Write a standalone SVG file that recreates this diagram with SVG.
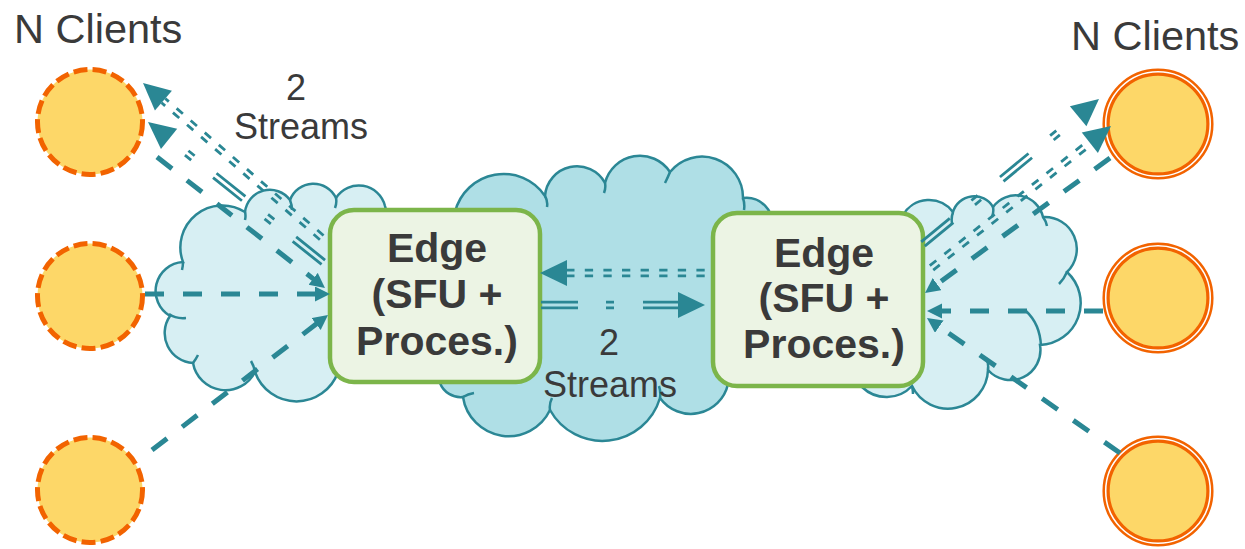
<svg xmlns="http://www.w3.org/2000/svg" width="1245" height="549" viewBox="0 0 1245 549">
  <defs>
    <style>
      .cl-light { fill: #d7eff3; stroke: #2b8795; stroke-width: 2.5; }
      .cl-mid { fill: #afdfe6; stroke: #2b8795; stroke-width: 2.5; }
      .hook { fill: none; stroke: #2b8795; stroke-width: 2.5; }
      .box { fill: #ecf4e4; stroke: #7cb54a; stroke-width: 4.5; }
      .lbl { font-family: "Liberation Sans", Arial, sans-serif; font-weight: bold; font-size: 41px; fill: #3a3a3a; text-anchor: middle; }
      .cap { font-family: "Liberation Sans", Arial, sans-serif; font-size: 36px; fill: #3a3a3a; text-anchor: middle; }
      .title { font-family: "Liberation Sans", Arial, sans-serif; font-size: 41.5px; fill: #3a3a3a; }
      .cli-d { fill: #fdd768; stroke: #f26300; stroke-width: 5; stroke-dasharray: 14 5.2; }
      .cli-o { fill: #ffffff; stroke: #f26300; stroke-width: 2.5; }
      .cli-i { fill: #fdd768; stroke: #f26300; stroke-width: 3.2; }
      .sl { fill: none; stroke: #2a8794; stroke-width: 5; stroke-dasharray: 19 19; marker-end: url(#tri); }
      .dl { stroke: #2a8794; stroke-width: 2.8; }
      .sq { stroke-dasharray: 8.3 10.3; stroke-dashoffset: 10.3; }
      .ld { stroke-dasharray: 37 28 8 29; }
      .ah { fill: #2a8794; }
    </style>
    <marker id="tri" markerUnits="userSpaceOnUse" markerWidth="16" markerHeight="16" refX="3" refY="7.5" orient="auto">
      <path d="M0,0 L15,7.5 L0,15 Z" fill="#2a8794"/>
    </marker>
  </defs>

  <!-- clouds -->
  <g id="clouds">
    <g id="cloud-core">
      <path class="cl-mid" d="M455,212 A50,50 0 0 1 545,196 A32,32 0 0 1 605,183 A36,36 0 0 1 670,172 A41,41 0 0 1 743,198 A26,26 0 0 1 772,228 L728,384 A38,38 0 0 1 660,398 A60,60 0 0 1 550,410 A46,46 0 0 1 463,397 A22,22 0 0 1 440,383 Z"/>
      <path class="hook" d="M545,196 Q548,201 547,207 M605,183 Q606,188 604,193 M670,172 Q668,177 665,183 M743,198 Q745,204 744,210 M660,398 Q661,392 659,386 M550,410 Q549,404 552,398 M463,397 Q468,394 474,393"/>
    </g>
    <g id="cloud-left">
      <path class="cl-light" d="M193,363 A30,30 0 0 1 170,316 A29,29 0 0 1 183,262 A42,42 0 0 1 245,212 A25,25 0 0 1 290,200 A25,25 0 0 1 336,198 A27,27 0 0 1 385,206 L400,260 L338,372 A44,44 0 0 1 255,372 A33,33 0 0 1 193,363 Z"/>
      <path class="hook" d="M169,314 Q176,319 186,318 M183,262 Q183,266 182,270 M245,212 Q246,216 245,220 M290,200 Q292,205 292,210 M336,198 Q337,203 335,208 M255,372 Q254,366 251,361 M193,363 Q196,359 198,355"/>
    </g>
    <g id="cloud-right">
      <path class="cl-light" d="M903,215 A30,30 0 0 1 953,212 A22,22 0 0 1 993,207 A28,28 0 0 1 1043,217 A32,32 0 0 1 1067,272 A42,42 0 0 1 1040,345 A30,30 0 0 1 988,370 A40,40 0 0 1 912,386 A35,35 0 0 1 862,387 L880,300 Z"/>
      <path class="hook" d="M953,212 Q951,218 952,223 M993,207 Q994,212 992,217 M1043,217 Q1046,221 1047,226 M1067,272 Q1064,279 1059,284 M1041,346 Q1040,324 1026,311 M988,370 Q989,364 986,358 M912,386 Q913,391 913,394"/>
    </g>
  </g>

  <!-- edge servers -->
  <g id="edge-left">
    <rect class="box" x="330" y="210" width="210" height="172" rx="24"/>
    <text class="lbl" x="437" y="262">Edge</text>
    <text class="lbl" x="437" y="308">(SFU +</text>
    <text class="lbl" x="437" y="355">Proces.)</text>
  </g>
  <g id="edge-right">
    <rect class="box" x="713" y="213" width="210" height="173" rx="24"/>
    <text class="lbl" x="824" y="267">Edge</text>
    <text class="lbl" x="824" y="312">(SFU +</text>
    <text class="lbl" x="824" y="358">Proces.)</text>
  </g>

  <!-- clients on the left (dashed outline) -->
  <g id="client-l1"><circle class="cli-d" cx="90" cy="122" r="52.5"/></g>
  <g id="client-l2"><circle class="cli-d" cx="90" cy="296" r="52.5"/></g>
  <g id="client-l3"><circle class="cli-d" cx="90" cy="490" r="52.5"/></g>

  <!-- clients on the right (double outline) -->
  <g id="client-r1"><circle class="cli-o" cx="1158" cy="124" r="54.3"/><circle class="cli-i" cx="1158" cy="124" r="49.9"/></g>
  <g id="client-r2"><circle class="cli-o" cx="1158" cy="298" r="54.3"/><circle class="cli-i" cx="1158" cy="298" r="49.9"/></g>
  <g id="client-r3"><circle class="cli-o" cx="1158" cy="491" r="54.3"/><circle class="cli-i" cx="1158" cy="491" r="49.9"/></g>

  <!-- connectors -->
  <g id="connectors">
    <!-- single-stream uplinks -->
    <line class="sl" x1="145" y1="294" x2="318" y2="294"/>
    <line class="sl" x1="152" y1="450" x2="318.5" y2="322.3"/>
    <line class="sl" x1="157" y1="157" x2="315.5" y2="280.6"/>
    <line class="sl" x1="1110" y1="158" x2="934.7" y2="285.9"/>
    <line class="sl" x1="1103" y1="311" x2="939" y2="311"/>
    <line class="sl" x1="1120" y1="453" x2="936.8" y2="324.9"/>

    <!-- double-line stream bundles -->
    <g transform="translate(328,243) rotate(-139.14)">
      <line class="dl sq" x1="0" y1="-2.8" x2="217.6" y2="-2.8"/>
      <line class="dl sq" x1="0" y1="2.8" x2="217.6" y2="2.8"/>
      <polygon class="ah" points="217.6,-13 244.6,0 217.6,13"/>
    </g>
    <g transform="translate(328,266) rotate(-141.34)">
      <line class="dl ld" x1="0" y1="-2.8" x2="203.5" y2="-2.8" stroke-dashoffset="96"/>
      <line class="dl ld" x1="0" y1="2.8" x2="203.5" y2="2.8" stroke-dashoffset="96"/>
      <polygon class="ah" points="203.5,-13 230.5,0 203.5,13"/>
    </g>
    <g transform="translate(713,273) rotate(180)">
      <line class="dl sq" x1="0" y1="-2.8" x2="146" y2="-2.8"/>
      <line class="dl sq" x1="0" y1="2.8" x2="146" y2="2.8"/>
      <polygon class="ah" points="146,-13 173,0 146,13"/>
    </g>
    <g transform="translate(541,305)">
      <line class="dl ld" x1="0" y1="-2.8" x2="137" y2="-2.8"/>
      <line class="dl ld" x1="0" y1="2.8" x2="137" y2="2.8"/>
      <polygon class="ah" points="137,-13 164,0 137,13"/>
    </g>
    <g transform="translate(923,244) rotate(-39.48)">
      <line class="dl ld" x1="0" y1="-2.8" x2="201" y2="-2.8"/>
      <line class="dl ld" x1="0" y1="2.8" x2="201" y2="2.8"/>
      <polygon class="ah" points="201,-13 228,0 201,13"/>
    </g>
    <g transform="translate(925,273) rotate(-38.32)">
      <line class="dl sq" x1="0" y1="-2.8" x2="210.1" y2="-2.8"/>
      <line class="dl sq" x1="0" y1="2.8" x2="210.1" y2="2.8"/>
      <polygon class="ah" points="210.1,-13 237.1,0 210.1,13"/>
    </g>
  </g>

  <!-- labels -->
  <g id="labels">
    <text class="title" x="14" y="43">N Clients</text>
    <text class="title" x="1071" y="50">N Clients</text>
    <text class="cap" x="296" y="100">2</text>
    <text class="cap" x="301" y="139">Streams</text>
    <text class="cap" x="609" y="355">2</text>
    <text class="cap" x="610" y="397">Streams</text>
  </g>
</svg>
